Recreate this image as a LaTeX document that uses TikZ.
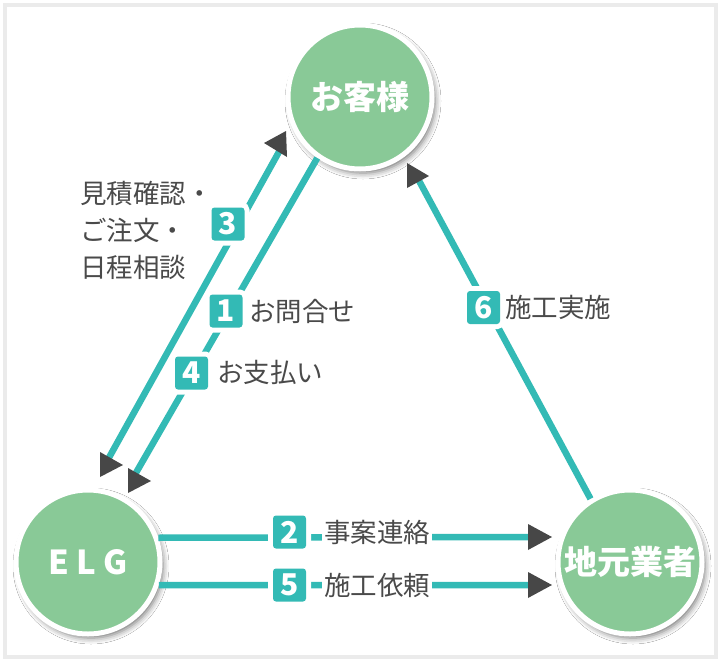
\documentclass[tikz,border=0pt]{standalone}
\usepackage{fontspec}
\setmainfont{Noto Sans CJK JP}
\usetikzlibrary{shadows.blur}
\definecolor{tealc}{HTML}{33BAB5}
\definecolor{greenc}{HTML}{89C997}
\definecolor{arrowc}{HTML}{474747}
\definecolor{textc}{HTML}{4A4A4A}
\definecolor{framec}{HTML}{EBEBEB}
\begin{document}
\begin{tikzpicture}[x=1pt,y=-1pt,
  link/.style={draw=tealc, line width=6.5pt},
  party/.style={circle, fill=greenc, draw=white, line width=5pt, minimum size=144pt, inner sep=0pt,
    text=white, font=\bfseries\fontsize{33}{33}\selectfont,
    blur shadow={shadow xshift=3pt, shadow yshift=-4pt, shadow blur radius=6pt, shadow opacity=55}},
  numbox/.style={fill=tealc, rounded corners=3pt, minimum width=33pt, minimum height=33pt, inner sep=0pt,
    text=white, font=\bfseries\fontsize{30}{30}\selectfont, preaction={draw=white, line width=10pt}},
  lbl/.style={text=textc, font=\fontsize{26.5}{37}\selectfont, inner sep=0pt},
  onlbl/.style={lbl, fill=white, inner sep=2pt},
  tipshape/.style={fill=arrowc}]
\useasboundingbox (0,0) rectangle (721,662);
\fill[white] (0,0) rectangle (721,662);
\draw[framec, line width=3.5pt] (5,5) rectangle (716,657);

% parties
\node[party] (cust) at (360,97) {お客様};
\node[party] (elg) at (88,562) {E\hspace{7pt}L\hspace{7pt}G};
\node[party] (biz) at (630,562) {地元業者};

% connector ends
\coordinate (e3a) at (106,463);
\coordinate (e3b) at (280,150);
\coordinate (e14) at (133,478);
\coordinate (e6) at (417,177);
\coordinate (e2) at (535,537);
\coordinate (e5) at (535,585);

% connectors
\draw[link] (e3a) -- (e3b);
\draw[link] (cust.235) -- (e14);
\draw[link] (biz.122) -- (e6);
\draw[link] (elg.19.6) -- (e2);
\draw[link] (elg.-18) -- (e5);

% number boxes
\node[numbox] (n1) at (226,311) {1};
\node[numbox] (n2) at (289.5,532) {2};
\node[numbox] (n3) at (228,224) {3};
\node[numbox] (n4) at (191.5,373) {4};
\node[numbox] (n5) at (289.5,585) {5};
\node[numbox] (n6) at (483.5,307.5) {6};

% labels
\node[lbl, anchor=west, align=left] (t3) at (80,230) {見積確認・\\ご注文・\\日程相談};
\node[lbl, anchor=west] (t1) at (249,311) {お問合せ};
\node[lbl, anchor=west] (t4) at (217,372) {お支払い};
\node[lbl, anchor=west] (t6) at (505,307) {施工実施};
\node[onlbl] (t2) at (377,532) {事案連絡};
\node[onlbl] (t5) at (377,585) {施工依頼};

% arrowheads
\fill[tipshape] (100,452) -- (123,465) -- (100,477) -- cycle;
\fill[tipshape] (128,468) -- (151,481) -- (128,493) -- cycle;
\fill[tipshape] (286,131) -- (287,157) -- (264,143) -- cycle;
\fill[tipshape] (407,163) -- (429,176) -- (407,188) -- cycle;
\fill[tipshape] (528,524) -- (552,537) -- (528,550) -- cycle;
\fill[tipshape] (528,572) -- (552,585) -- (528,598) -- cycle;
\end{tikzpicture}
\end{document}
